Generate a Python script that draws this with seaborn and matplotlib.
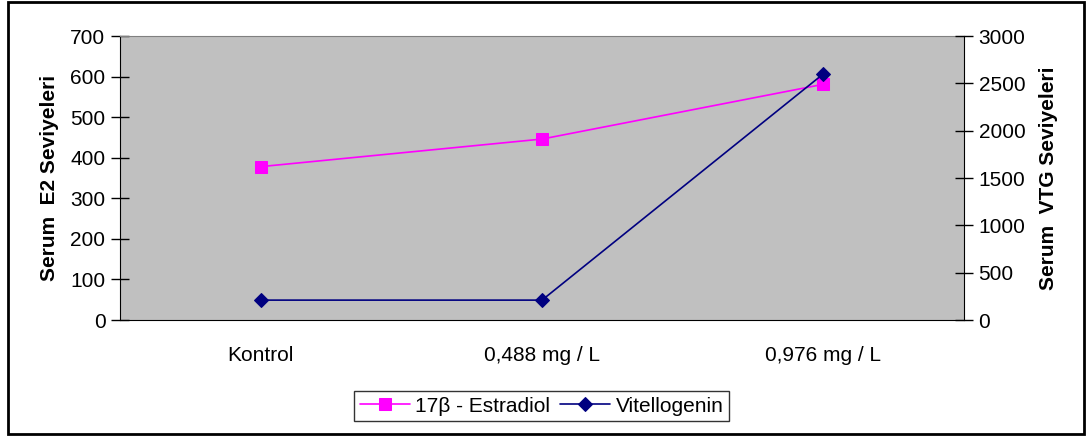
import matplotlib
matplotlib.use("Agg")
import matplotlib.pyplot as plt
import seaborn as sns
import pandas as pd
from matplotlib.patches import Rectangle

categories = ["Kontrol", "0,488 mg / L", "0,976 mg / L"]
estradiol = [378, 446, 581]
vitellogenin = [210, 210, 2600]
left_ticks = [0, 100, 200, 300, 400, 500, 600, 700]
right_ticks = [0, 500, 1000, 1500, 2000, 2500, 3000]

sns.set_style("white")
plt.rcParams['font.family'] = ['Liberation Sans', 'DejaVu Sans']
plt.rcParams['text.color'] = 'black'
plt.rcParams['axes.labelcolor'] = 'black'
plt.rcParams['xtick.color'] = 'black'
plt.rcParams['ytick.color'] = 'black'

df = pd.DataFrame({"cat": categories, "E2": estradiol, "VTG": vitellogenin})

fig = plt.figure(figsize=(10.87, 4.37), dpi=100)
ax = fig.add_axes([120/1087, 1-320/437, (964-120)/1087, (320-36)/437])
ax2 = ax.twinx()

ax.set_facecolor("#C0C0C0")
ax.set_zorder(0)
ax2.set_zorder(1)
ax2.patch.set_visible(False)

sns.lineplot(data=df, x="cat", y="E2", ax=ax, color="#FF00FF", marker="s",
             markersize=8, markeredgecolor="#FF00FF", linewidth=1.2, sort=False,
             label="17\u03b2 - Estradiol", legend=False)
sns.lineplot(data=df, x="cat", y="VTG", ax=ax2, color="#000080", marker="D",
             markersize=7, markeredgecolor="#000080", linewidth=1.2, sort=False,
             label="Vitellogenin", legend=False)

ax.set_xlim(-0.5, 2.5)
ax.set_ylim(0, 700)
ax2.set_ylim(0, 3000)
ax.set_yticks(left_ticks)
ax2.set_yticks(right_ticks)
ax.set_xticks([0, 1, 2])
ax.set_xticklabels(categories)
ax.set_xticks([-0.5, 0.5, 1.5, 2.5], minor=True)

fs = 15
ax.tick_params(axis='x', which='major', length=0, pad=19, labelsize=fs, labelcolor='black')
ax.tick_params(axis='x', which='minor', length=13, width=1, direction='inout', color='black')
ax.tick_params(axis='y', length=13, width=1, direction='inout', color='black', labelsize=fs, pad=4, labelcolor='black')
ax2.tick_params(axis='y', length=13, width=1, direction='inout', color='black', labelsize=fs, pad=4, labelcolor='black')

ax.set_xlabel("")
ax.set_ylabel("Serum  E2 Seviyeleri", fontsize=15, fontweight='bold', labelpad=8, color='black')
ax2.set_ylabel("Serum  VTG Seviyeleri", fontsize=15, fontweight='bold', labelpad=10, color='black')

for a in (ax, ax2):
    for s in a.spines.values():
        s.set_visible(False)
ax.spines['top'].set_visible(True)
ax.spines['top'].set_color('#808080')
ax.spines['left'].set_visible(True)
ax.spines['left'].set_color('black')
ax.spines['bottom'].set_visible(True)
ax.spines['bottom'].set_color('black')
ax2.spines['right'].set_visible(True)
ax2.spines['right'].set_color('black')

h1, l1 = ax.get_legend_handles_labels()
h2, l2 = ax2.get_legend_handles_labels()
leg = fig.legend(h1 + h2, l1 + l2, loc='center', bbox_to_anchor=(541.5/1087, 1-406/437),
                 ncol=2, frameon=True, fancybox=False, fontsize=fs, handlelength=2.4,
                 columnspacing=0.5, handletextpad=0.25, borderpad=0.25, borderaxespad=0,
                 edgecolor='black')
leg.get_frame().set_linewidth(1.0)
for t in leg.get_texts():
    t.set_color('black')

fig.patches.append(Rectangle((8/1087, 1-434/437), (1084-8)/1087, (434-2)/437,
                             transform=fig.transFigure, fill=False, edgecolor='black',
                             linewidth=2))

fig.savefig("out.png", dpi=100)
